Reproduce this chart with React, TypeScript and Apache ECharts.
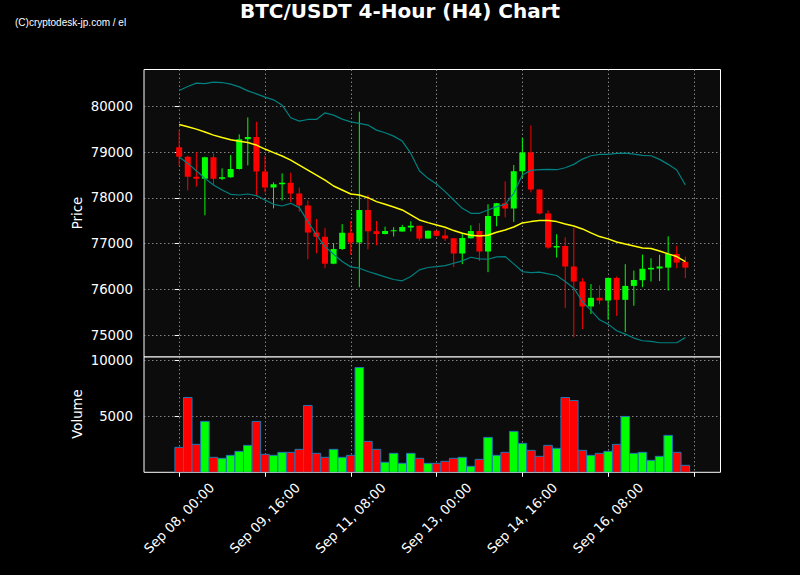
import React, { useEffect, useRef } from "react";
import * as echarts from "echarts";

// ---- Data ----
const openP = [79110, 78900, 78460, 78420, 78890, 78420, 78450, 78630, 79285, 79330, 78575, 78225, 78300, 78330, 78095, 77835, 77245, 77150, 76560, 76880, 77235, 77025, 77735, 77270, 77210, 77275, 77265, 77355, 77390, 77110, 77280, 77180, 77115, 76785, 77115, 77275, 76825, 77605, 77885, 77770, 78585, 78990, 78185, 77660, 76915, 76950, 76500, 76170, 75625, 75815, 75755, 76250, 75770, 76075, 76200, 76435, 76455, 76475, 76775, 76600];
const highP = [79480, 78920, 79000, 78900, 78970, 78645, 78935, 79390, 79760, 79665, 78920, 78340, 78535, 78550, 78225, 77945, 77540, 77345, 77010, 77425, 77495, 79885, 78065, 77495, 77370, 77360, 77410, 77490, 77390, 77290, 77285, 77315, 77125, 77240, 77400, 77445, 77860, 77890, 78360, 78720, 79315, 79585, 78190, 77730, 77205, 77140, 77345, 76245, 76115, 76085, 76250, 76280, 76550, 76410, 76760, 76680, 76755, 77160, 76955, 76715];
const lowP = [78700, 78165, 78245, 77620, 78280, 78390, 78440, 78620, 78710, 78060, 78120, 77770, 77945, 77905, 77700, 76660, 76790, 76460, 76550, 76860, 76755, 76045, 76875, 76965, 77200, 77155, 77260, 77265, 77060, 77105, 77160, 77060, 76485, 76550, 77110, 76620, 76375, 77380, 77575, 77475, 78440, 78120, 77640, 76885, 76695, 75590, 74955, 75130, 75460, 75675, 75335, 75420, 75065, 75640, 76045, 76170, 76180, 75975, 76460, 76245];
const closeP = [78900, 78460, 78420, 78890, 78420, 78450, 78630, 79285, 79330, 78575, 78225, 78300, 78330, 78095, 77835, 77245, 77150, 76560, 76880, 77235, 77025, 77735, 77270, 77210, 77275, 77290, 77365, 77390, 77110, 77280, 77170, 77110, 76785, 77120, 77275, 76825, 77605, 77885, 77770, 78585, 78990, 78185, 77660, 76915, 76950, 76500, 76170, 75625, 75815, 75755, 76250, 75770, 76075, 76205, 76450, 76470, 76500, 76775, 76585, 76475];
const maLine = [79606, 79555, 79504, 79440, 79373, 79320, 79271, 79240, 79213, 79155, 79068, 78990, 78915, 78827, 78718, 78609, 78500, 78390, 78260, 78173, 78085, 78063, 78005, 77918, 77860, 77801, 77736, 77627, 77518, 77459, 77408, 77357, 77285, 77226, 77183, 77168, 77183, 77248, 77299, 77364, 77452, 77481, 77503, 77503, 77481, 77430, 77386, 77321, 77234, 77154, 77103, 77037, 76993, 76950, 76906, 76891, 76840, 76775, 76717, 76608];
const upperBand = [80348, 80436, 80509, 80501, 80530, 80523, 80487, 80428, 80341, 80276, 80203, 80145, 80028, 79752, 79679, 79715, 79715, 79861, 79810, 79723, 79664, 79628, 79592, 79482, 79424, 79351, 79242, 78973, 78595, 78427, 78303, 78136, 77954, 77772, 77663, 77663, 77736, 77808, 77859, 78099, 78500, 78602, 78616, 78624, 78616, 78660, 78733, 78849, 78922, 78951, 78951, 78973, 78980, 78958, 78929, 78922, 78842, 78733, 78609, 78282];
const lowerBand = [78893, 78755, 78595, 78427, 78282, 78173, 78078, 78063, 78085, 78049, 77954, 77859, 77823, 77881, 77787, 77481, 77190, 76935, 76768, 76608, 76491, 76462, 76389, 76331, 76273, 76215, 76186, 76280, 76426, 76477, 76498, 76520, 76571, 76622, 76702, 76666, 76658, 76709, 76717, 76557, 76389, 76367, 76375, 76338, 76302, 76171, 76025, 75734, 75538, 75334, 75239, 75094, 75021, 74934, 74875, 74861, 74832, 74832, 74832, 74948];
const volume = [2232, 6697, 2500, 4554, 1339, 1250, 1518, 1875, 2411, 4554, 1607, 1518, 1786, 1786, 2054, 5982, 1696, 1339, 2054, 1339, 1518, 9375, 2768, 2054, 893, 1696, 804, 1696, 1250, 804, 804, 982, 1250, 1339, 536, 1161, 3125, 1518, 1786, 3661, 2589, 1964, 1429, 2411, 2143, 6697, 6429, 1964, 1518, 1696, 1875, 2500, 5000, 1696, 1786, 1071, 1429, 3304, 1786, 625];

const xTickIdx = [0, 10, 20, 30, 40, 50, 60];
const xTickLabels = ["Sep 08, 00:00", "Sep 09, 16:00", "Sep 11, 08:00", "Sep 13, 00:00", "Sep 14, 16:00", "Sep 16, 08:00", ""];
const priceTicks = [75000, 76000, 77000, 78000, 79000, 80000];
const volumeTicks = [5000, 10000];

const UP = "#00ff00";
const DOWN = "#ff0000";
const FONT = "DejaVu Sans";

export default function App() {
  const ref = useRef<HTMLDivElement>(null);

  useEffect(() => {
    if (!ref.current) return;
    const chart = echarts.init(ref.current, undefined, { renderer: "svg" });

    const candleData = openP.map((o, i) => [i, o, closeP[i], lowP[i], highP[i]]);
    const volData = volume.map((v, i) => [i, v, closeP[i] >= openP[i] ? 1 : 0]);

    const gridLine = { show: true, lineStyle: { color: "rgba(190,190,190,0.75)", type: [1.5, 2.5], width: 0.9 } };
    const xMin = -4.1;
    const xMax = 63.1;
    const plain = (v: number) => String(v);

    const option: any = {
      animation: false,
      backgroundColor: "#000000",
      grid: [
        { left: 144, top: 69.5, width: 576.5, height: 287.5, show: true, backgroundColor: "#0c0c0c", borderColor: "#ffffff", borderWidth: 1 },
        { left: 144, top: 357, width: 576.5, height: 115.3, show: true, backgroundColor: "#0c0c0c", borderColor: "#ffffff", borderWidth: 1 },
      ],
      xAxis: [
        {
          type: "value", gridIndex: 0, min: xMin, max: xMax,
          axisLine: { show: false },
          axisTick: { show: false, customValues: xTickIdx },
          axisLabel: { show: false, customValues: xTickIdx },
          splitLine: gridLine,
        },
        {
          type: "value", gridIndex: 1, min: xMin, max: xMax,
          axisLine: { show: false },
          axisTick: { show: true, customValues: xTickIdx, length: 4.5, lineStyle: { color: "#ffffff", width: 1 } },
          axisLabel: {
            show: true,
            customValues: xTickIdx.slice(0, 6),
            formatter: (v: number) => xTickLabels[xTickIdx.indexOf(v)] ?? "",
            rotate: 45,
            align: "center",
            verticalAlign: "middle",
            margin: 46,
            color: "#ffffff",
            fontFamily: FONT,
            fontSize: 13.3,
          },
          splitLine: gridLine,
        },
      ],
      yAxis: [
        {
          type: "value", gridIndex: 0, min: 74520, max: 80808, scale: true,
          axisLine: { show: false },
          axisTick: { show: true, customValues: priceTicks, length: 4.5, lineStyle: { color: "#ffffff", width: 1 } },
          axisLabel: { show: true, customValues: priceTicks, formatter: plain, color: "#ffffff", fontFamily: FONT, fontSize: 13.3, margin: 11 },
          splitLine: gridLine,
        },
        {
          type: "value", gridIndex: 1, min: 0, max: 10320,
          axisLine: { show: false },
          axisTick: { show: true, customValues: volumeTicks, length: 4.5, lineStyle: { color: "#ffffff", width: 1 } },
          axisLabel: { show: true, customValues: volumeTicks, formatter: plain, color: "#ffffff", fontFamily: FONT, fontSize: 13.3, margin: 11 },
          splitLine: gridLine,
        },
      ],
      graphic: [
        {
          type: "text", x: 400, y: 11,
          style: { text: "BTC/USDT 4-Hour (H4) Chart", fill: "#ffffff", font: `bold 20px "${FONT}"`, textAlign: "center", textVerticalAlign: "middle" },
        },
        {
          type: "text", x: 15, y: 22,
          style: { text: "(C)cryptodesk-jp.com / el", fill: "#ffffff", font: `10px "Liberation Sans"`, textAlign: "left", textVerticalAlign: "middle" },
        },
        {
          type: "text", x: 77.5, y: 213, rotation: Math.PI / 2,
          style: { text: "Price", fill: "#ffffff", font: `13.3px "${FONT}"`, textAlign: "center", textVerticalAlign: "middle" },
        },
        {
          type: "text", x: 77.5, y: 414, rotation: Math.PI / 2,
          style: { text: "Volume", fill: "#ffffff", font: `13.3px "${FONT}"`, textAlign: "center", textVerticalAlign: "middle" },
        },
      ],
      series: [
        {
          type: "custom",
          xAxisIndex: 0, yAxisIndex: 0,
          clip: true,
          z: 2,
          data: candleData,
          renderItem: (params: any, api: any) => {
            const i = api.value(0);
            const o = api.value(1);
            const c = api.value(2);
            const l = api.value(3);
            const h = api.value(4);
            const pO = api.coord([i, o]);
            const pC = api.coord([i, c]);
            const pL = api.coord([i, l]);
            const pH = api.coord([i, h]);
            const w = api.size([1, 0])[0] * 0.7;
            const color = c >= o ? UP : DOWN;
            const top = Math.min(pO[1], pC[1]);
            const hgt = Math.max(Math.abs(pO[1] - pC[1]), 1);
            return {
              type: "group",
              children: [
                { type: "line", shape: { x1: pH[0], y1: pH[1], x2: pL[0], y2: pL[1] }, style: { stroke: color, lineWidth: 1 } },
                { type: "rect", shape: { x: pO[0] - w / 2, y: top, width: w, height: hgt }, style: { fill: color } },
              ],
            };
          },
        },
        {
          type: "line", xAxisIndex: 0, yAxisIndex: 0, z: 3,
          data: upperBand.map((v, i) => [i, v]),
          showSymbol: false, symbol: "none",
          lineStyle: { color: "#008080", width: 1.2 },
        },
        {
          type: "line", xAxisIndex: 0, yAxisIndex: 0, z: 3,
          data: lowerBand.map((v, i) => [i, v]),
          showSymbol: false, symbol: "none",
          lineStyle: { color: "#008080", width: 1.2 },
        },
        {
          type: "line", xAxisIndex: 0, yAxisIndex: 0, z: 4,
          data: maLine.map((v, i) => [i, v]),
          showSymbol: false, symbol: "none",
          lineStyle: { color: "#ffff00", width: 1.5 },
        },
        {
          type: "custom",
          xAxisIndex: 1, yAxisIndex: 1,
          clip: true,
          z: 2,
          data: volData,
          renderItem: (params: any, api: any) => {
            const i = api.value(0);
            const v = api.value(1);
            const up = api.value(2) === 1;
            const p1 = api.coord([i - 0.5, v]);
            const p2 = api.coord([i + 0.5, 0]);
            return {
              type: "rect",
              shape: { x: p1[0], y: p1[1], width: p2[0] - p1[0], height: p2[1] - p1[1] },
              style: { fill: up ? UP : DOWN, stroke: "#1f77b4", lineWidth: 1 },
            };
          },
        },
      ],
    };

    chart.setOption(option);
    return () => chart.dispose();
  }, []);

  return (
    <div
      ref={ref}
      style={{ position: "fixed", left: 0, top: 0, width: 800, height: 575, background: "#000" }}
    />
  );
}
